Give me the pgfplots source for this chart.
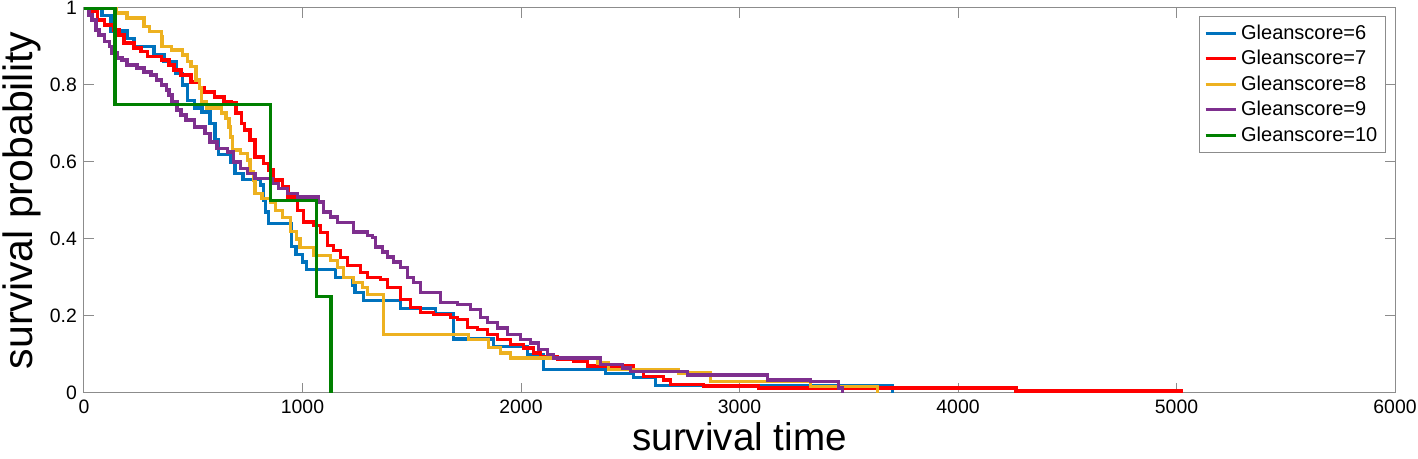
\documentclass[border=0pt]{standalone}
\usepackage{fontspec}
\setmainfont{Liberation Sans}
\usepackage{pgfplots}
\pgfplotsset{compat=1.18}
\definecolor{c6}{rgb}{0,0.447,0.741}
\definecolor{c7}{rgb}{1,0,0}
\definecolor{c8}{rgb}{0.929,0.694,0.125}
\definecolor{c9}{rgb}{0.494,0.184,0.556}
\definecolor{c10}{rgb}{0,0.5,0}
\begin{document}
\begin{tikzpicture}
\begin{axis}[name=ax, scale only axis, width=655.5pt, height=192.5pt,
  xmin=0, xmax=6000, ymin=0, ymax=1,
  xtick={0,1000,2000,3000,4000,5000,6000},
  ytick={0,0.2,0.4,0.6,0.8,1},
  yticklabels={0,0.2,0.4,0.6,0.8,1},
  scaled ticks=false,
  /pgf/number format/assume math mode=true,
  /pgf/number format/1000 sep={},
  tick align=inside, tick pos=both, major tick length=5pt,
  axis line style={black!45, line width=0.5pt},
  tick style={black!45, line width=0.5pt},
  tick label style={font=\fontsize{9.7}{11}\selectfont, black},
  xlabel={survival time}, ylabel={survival probability},
  xlabel style={font=\fontsize{19.3}{23}\selectfont, inner sep=0pt, at={(axis description cs:0.5,-0.1143)}, anchor=center},
  ylabel style={font=\fontsize{20.5}{24}\selectfont, inner sep=0pt, at={(axis description cs:-0.0473,0.5)}, anchor=center},
  every axis plot/.append style={line width=1.6pt, const plot, line join=miter},
  legend style={at={(0.993,0.979)}, anchor=north east, draw=black!45, line width=0.5pt,
    font=\fontsize{10}{12}\selectfont, inner sep=2pt, row sep=0pt},
  legend cell align=left,
  legend image code/.code={\draw[#1] (0pt,0pt) -- (15pt,0pt);},
]
\addplot[c6] coordinates {(0,1)(82,0.98)(124,0.94)(197,0.92)(229,0.90)(320,0.88)(366,0.86)(421,0.83)(449,0.80)(472,0.76)(504,0.74)(540,0.73)(577,0.70)(600,0.657)(614,0.62)(669,0.60)(691,0.57)(728,0.555)(806,0.54)(820,0.50)(829,0.47)(843,0.44)(948,0.38)(970,0.36)(1000,0.34)(1020,0.32)(1150,0.30)(1227,0.28)(1240,0.26)(1280,0.24)(1448,0.22)(1608,0.205)(1690,0.14)(1874,0.12)(2030,0.10)(2102,0.06)(2386,0.05)(2515,0.04)(2615,0.02)(3700,0)};
\addlegendentry{Gleanscore=6}
\addplot[c7] coordinates {(0,1.0)(32,0.990)(60,0.969)(92,0.956)(137,0.943)(160,0.930)(183,0.909)(229,0.896)(261,0.886)(289,0.873)(353,0.865)(389,0.852)(412,0.839)(444,0.826)(490,0.808)(527,0.792)(550,0.782)(596,0.769)(641,0.756)(673,0.753)(696,0.727)(719,0.701)(733,0.683)(760,0.657)(783,0.613)(820,0.597)(843,0.579)(866,0.553)(907,0.535)(934,0.509)(976,0.475)(1003,0.444)(1049,0.436)(1081,0.416)(1113,0.384)(1141,0.371)(1173,0.351)(1205,0.332)(1264,0.312)(1296,0.301)(1356,0.294)(1388,0.275)(1448,0.242)(1493,0.223)(1539,0.210)(1599,0.203)(1677,0.197)(1709,0.190)(1754,0.171)(1800,0.164)(1846,0.151)(1892,0.138)(1951,0.125)(2011,0.117)(2057,0.104)(2089,0.094)(2167,0.086)(2240,0.081)(2304,0.070)(2515,0.055)(2561,0.042)(2652,0.034)(2684,0.023)(2836,0.018)(3087,0.013)(4265,0.005)(5030,0.005)};
\addlegendentry{Gleanscore=7}
\addplot[c8] coordinates {(0,1.0)(147,0.987)(197,0.974)(275,0.951)(298,0.938)(353,0.925)(357,0.899)(399,0.891)(449,0.878)(472,0.860)(490,0.847)(513,0.813)(527,0.792)(536,0.756)(559,0.740)(628,0.727)(650,0.714)(664,0.691)(669,0.665)(678,0.631)(715,0.623)(747,0.605)(760,0.574)(774,0.553)(783,0.519)(815,0.506)(852,0.494)(875,0.475)(907,0.455)(944,0.42)(971,0.40)(989,0.377)(1049,0.358)(1127,0.345)(1159,0.327)(1186,0.301)(1232,0.286)(1273,0.273)(1296,0.255)(1370,0.151)(1759,0.138)(1851,0.119)(1906,0.104)(1951,0.091)(2350,0.078)(2400,0.060)(2721,0.052)(2868,0.029)(3326,0.016)(3633,0)};
\addlegendentry{Gleanscore=8}
\addplot[c9] coordinates {(0,1.0)(23,0.982)(37,0.969)(55,0.943)(69,0.930)(92,0.912)(115,0.899)(128,0.883)(151,0.870)(174,0.865)(197,0.852)(243,0.844)(275,0.834)(307,0.826)(330,0.813)(353,0.800)(376,0.787)(389,0.774)(403,0.756)(426,0.735)(444,0.722)(467,0.709)(504,0.691)(554,0.675)(577,0.652)(609,0.636)(655,0.626)(683,0.600)(715,0.584)(747,0.571)(783,0.558)(861,0.545)(889,0.532)(930,0.519)(976,0.509)(1072,0.496)(1095,0.470)(1127,0.457)(1159,0.442)(1232,0.418)(1296,0.410)(1319,0.403)(1333,0.379)(1365,0.366)(1388,0.353)(1415,0.340)(1448,0.325)(1480,0.301)(1507,0.286)(1539,0.262)(1631,0.236)(1709,0.229)(1768,0.216)(1814,0.197)(1846,0.184)(1892,0.169)(1938,0.151)(1997,0.138)(2043,0.130)(2080,0.112)(2121,0.099)(2148,0.091)(2364,0.073)(2464,0.065)(2501,0.055)(2762,0.047)(3129,0.034)(3326,0.029)(3454,0.013)(3472,0)};
\addlegendentry{Gleanscore=9}
\addplot[c10] coordinates {(0,1)(142,0.75)(852,0.5)(1063,0.25)(1130,0)};
\addlegendentry{Gleanscore=10}
\end{axis}
\pgfresetboundingbox
\path[use as bounding box] ([shift={(-42pt,-33pt)}]ax.south west) rectangle ([shift={(11.5pt,4pt)}]ax.north east);
\end{tikzpicture}
\end{document}
